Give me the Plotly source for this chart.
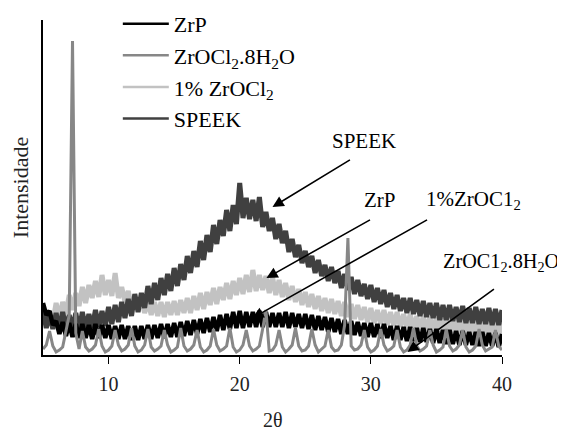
import plotly.graph_objects as go

# 2-theta sampling grid (degrees), 0.25 step from 5 to 40
two_theta = [5 + 0.25 * i for i in range(141)]

# Intensities (arbitrary units)
zrp = [
    52, 40, 44, 30,
    34, 21, 33, 19,
    32, 18, 31, 17,
    31, 17, 30, 16,
    31, 17, 30, 17,
    30, 16, 29, 16,
    30, 16, 29, 15,
    29, 15, 29, 16,
    30, 16, 30, 17,
    31, 17, 31, 18,
    32, 18, 33, 19,
    34, 20, 35, 21,
    36, 22, 37, 23,
    38, 24, 40, 25,
    41, 26, 43, 27,
    44, 27, 43, 28,
    43, 28, 44, 28,
    43, 28, 42, 28,
    42, 28, 43, 27,
    42, 28, 41, 27,
    41, 26, 40, 25,
    39, 25, 38, 23,
    37, 23, 36, 21,
    35, 21, 34, 20,
    33, 19, 32, 18,
    32, 18, 31, 17,
    31, 17, 29, 15,
    29, 15, 28, 14,
    28, 14, 27, 13,
    27, 13, 26, 12,
    26, 12, 25, 11,
    25, 11, 24, 10,
    24, 10, 23, 10,
    23, 9, 23, 9,
    22, 9, 22, 8,
    21,
]

zrocl2_8h2o = [
    6, 10, 24, 9,
    3, 5, 8, 25,
    40, 314, 22, 6,
    24, 8, 4, 6,
    10, 26, 9, 3,
    5, 9, 25, 10,
    4, 6, 10, 27,
    9, 3, 5, 10,
    26, 8, 4, 6,
    9, 25, 10, 3,
    5, 8, 27, 9,
    4, 6, 10, 25,
    8, 3, 5, 9,
    26, 10, 4, 6,
    9, 27, 8, 3,
    5, 10, 25, 9,
    4, 6, 9, 26,
    45, 4, 5, 10,
    25, 8, 3, 6,
    10, 27, 9, 4,
    5, 9, 26, 10,
    3, 6, 9, 25,
    8, 4, 5, 10,
    30, 117, 9, 5,
    6, 10, 25, 8,
    3, 5, 9, 26,
    10, 4, 6, 9,
    25, 8, 3, 5,
    10, 27, 9, 4,
    6, 9, 25, 10,
    3, 5, 8, 26,
    9, 4, 6, 10,
    25, 8, 3, 5,
    9, 26, 10, 4,
    6, 8, 25, 9,
    5,
]

one_pct_zrocl2 = [
    43, 30, 42, 33,
    52, 37, 53, 41,
    60, 45, 62, 49,
    68, 52, 70, 57,
    74, 58, 80, 60,
    75, 59, 82, 57,
    68, 53, 64, 48,
    59, 45, 56, 42,
    54, 40, 53, 39,
    53, 38, 53, 40,
    54, 40, 55, 42,
    57, 42, 59, 45,
    62, 46, 63, 50,
    67, 51, 68, 55,
    72, 56, 74, 60,
    77, 61, 80, 63,
    85, 64, 80, 65,
    79, 62, 78, 60,
    75, 58, 72, 55,
    69, 53, 66, 50,
    63, 48, 61, 46,
    59, 44, 57, 42,
    56, 41, 54, 39,
    53, 38, 51, 36,
    50, 35, 48, 33,
    47, 32, 45, 31,
    45, 30, 43, 29,
    43, 28, 41, 27,
    41, 26, 39, 25,
    39, 24, 38, 24,
    38, 23, 37, 23,
    37, 22, 36, 22,
    36, 21, 35, 21,
    35, 20, 34, 20,
    34, 19, 33, 19,
    32,
]

speek = [
    44, 27, 41, 26,
    42, 25, 43, 27,
    40, 26, 42, 24,
    43, 26, 41, 27,
    45, 28, 44, 29,
    48, 31, 50, 33,
    53, 37, 56, 39,
    61, 43, 62, 47,
    69, 51, 72, 55,
    77, 60, 81, 64,
    87, 69, 91, 75,
    99, 82, 104, 88,
    114, 95, 120, 103,
    130, 111, 135, 119,
    145, 124, 150, 131,
    172, 137, 157, 136,
    155, 134, 158, 128,
    143, 124, 137, 116,
    131, 112, 124, 103,
    116, 98, 110, 92,
    104, 88, 99, 82,
    95, 79, 90, 74,
    88, 72, 84, 67,
    81, 65, 78, 61,
    75, 59, 71, 56,
    70, 53, 67, 51,
    65, 48, 62, 46,
    60, 44, 57, 42,
    57, 41, 55, 39,
    54, 38, 52, 37,
    52, 35, 50, 35,
    50, 34, 48, 33,
    49, 32, 47, 32,
    48, 31, 46, 31,
    47, 30, 46, 30,
    45,
]

x_ticks = [10, 20, 30, 40]

series_names = ["ZrP", "ZrOCl<sub>2</sub>.8H<sub>2</sub>O", "1% ZrOCl<sub>2</sub>", "SPEEK"]
series_colors = ["#000000", "#878787", "#c2c2c2", "#404040"]

FONT = "Liberation Serif"

fig = go.Figure()
# drawing order: light gray at bottom, then SPEEK, ZrP, ZrOCl2.8H2O on top
fig.add_trace(go.Scatter(x=two_theta, y=one_pct_zrocl2, mode="lines", showlegend=False,
                         name=series_names[2], line=dict(color=series_colors[2], width=5)))
fig.add_trace(go.Scatter(x=two_theta, y=speek, mode="lines", showlegend=False,
                         name=series_names[3], line=dict(color=series_colors[3], width=5)))
fig.add_trace(go.Scatter(x=two_theta, y=zrp, mode="lines", showlegend=False,
                         name=series_names[0], line=dict(color=series_colors[0], width=4.5)))
fig.add_trace(go.Scatter(x=two_theta, y=zrocl2_8h2o, mode="lines", showlegend=False,
                         name=series_names[1], line=dict(color=series_colors[1], width=3)))
# legend entries (thin sample lines as in the reference)
for rank, (nm, col) in enumerate(zip(series_names, series_colors), start=1):
    fig.add_trace(go.Scatter(x=[None], y=[None], mode="lines", name=nm,
                             legendrank=rank, line=dict(color=col, width=2.5)))

arrow_common = dict(showarrow=True, arrowhead=2, arrowsize=1.4, arrowwidth=1.6,
                    arrowcolor="black", text="", xref="x", yref="y",
                    axref="x", ayref="y", standoff=0, startstandoff=0)
arrows = [
    (22.50, 148, 28.52, 196),
    (22.04, 77, 30.05, 136),
    (20.97, 37, 34.40, 136),
    (32.79, 3, 39.50, 67),
]
for hx, hy, tx, ty in arrows:
    fig.add_annotation(x=hx, y=hy, ax=tx, ay=ty, **arrow_common)

label_font = dict(family=FONT, size=21, color="black")
fig.add_annotation(x=29.46, y=214, text="SPEEK", showarrow=False,
                   xanchor="center", yanchor="middle", font=label_font)
fig.add_annotation(x=30.66, y=155, text="ZrP", showarrow=False,
                   xanchor="center", yanchor="middle", font=label_font)
fig.add_annotation(x=34.09, y=155, text="1%ZrOC1<sub>2</sub>", showarrow=False,
                   xanchor="left", yanchor="middle", font=label_font)
fig.add_annotation(x=35.38, y=93, text="ZrOC1<sub>2</sub>.8H<sub>2</sub>O", showarrow=False,
                   xanchor="left", yanchor="middle",
                   font=dict(family=FONT, size=20.3, color="black"))

# x-axis title placed as a paper-anchored annotation (below tick labels)
fig.add_annotation(x=0.5, y=-0.194, xref="paper", yref="paper", text="2θ",
                   showarrow=False, xanchor="center", yanchor="middle",
                   font=dict(family=FONT, size=20, color="#222"))

# The page body has an 8 px margin, so the figure is sized/offset to compensate.
fig.update_layout(
    width=557, height=420,
    margin=dict(l=35, r=63, t=12, b=73, autoexpand=False),
    paper_bgcolor="white", plot_bgcolor="white",
    font=dict(family=FONT, size=20, color="black"),
    showlegend=True,
    legend=dict(x=0.163, y=1.051, xanchor="left", yanchor="top",
                bgcolor="rgba(0,0,0,0)", itemwidth=46,
                font=dict(family=FONT, size=22, color="black"),
                tracegroupgap=0),
    xaxis=dict(range=[5, 40], tickmode="array", tickvals=x_ticks,
               ticktext=[str(v) for v in x_ticks], automargin=False,
               showline=True, linecolor="black", linewidth=1.5,
               ticks="outside", ticklen=7, tickcolor="black",
               ticklabelstandoff=3,
               showgrid=False, zeroline=False,
               tickfont=dict(family=FONT, size=20, color="#222")),
    yaxis=dict(range=[0, 335], showline=True, linecolor="black", linewidth=1.5,
               automargin=False,
               showticklabels=False, ticks="", showgrid=False, zeroline=False,
               title=dict(text="Intensidade", standoff=11,
                          font=dict(family=FONT, size=22, color="#222"))),
)

fig.write_html("out.html")
